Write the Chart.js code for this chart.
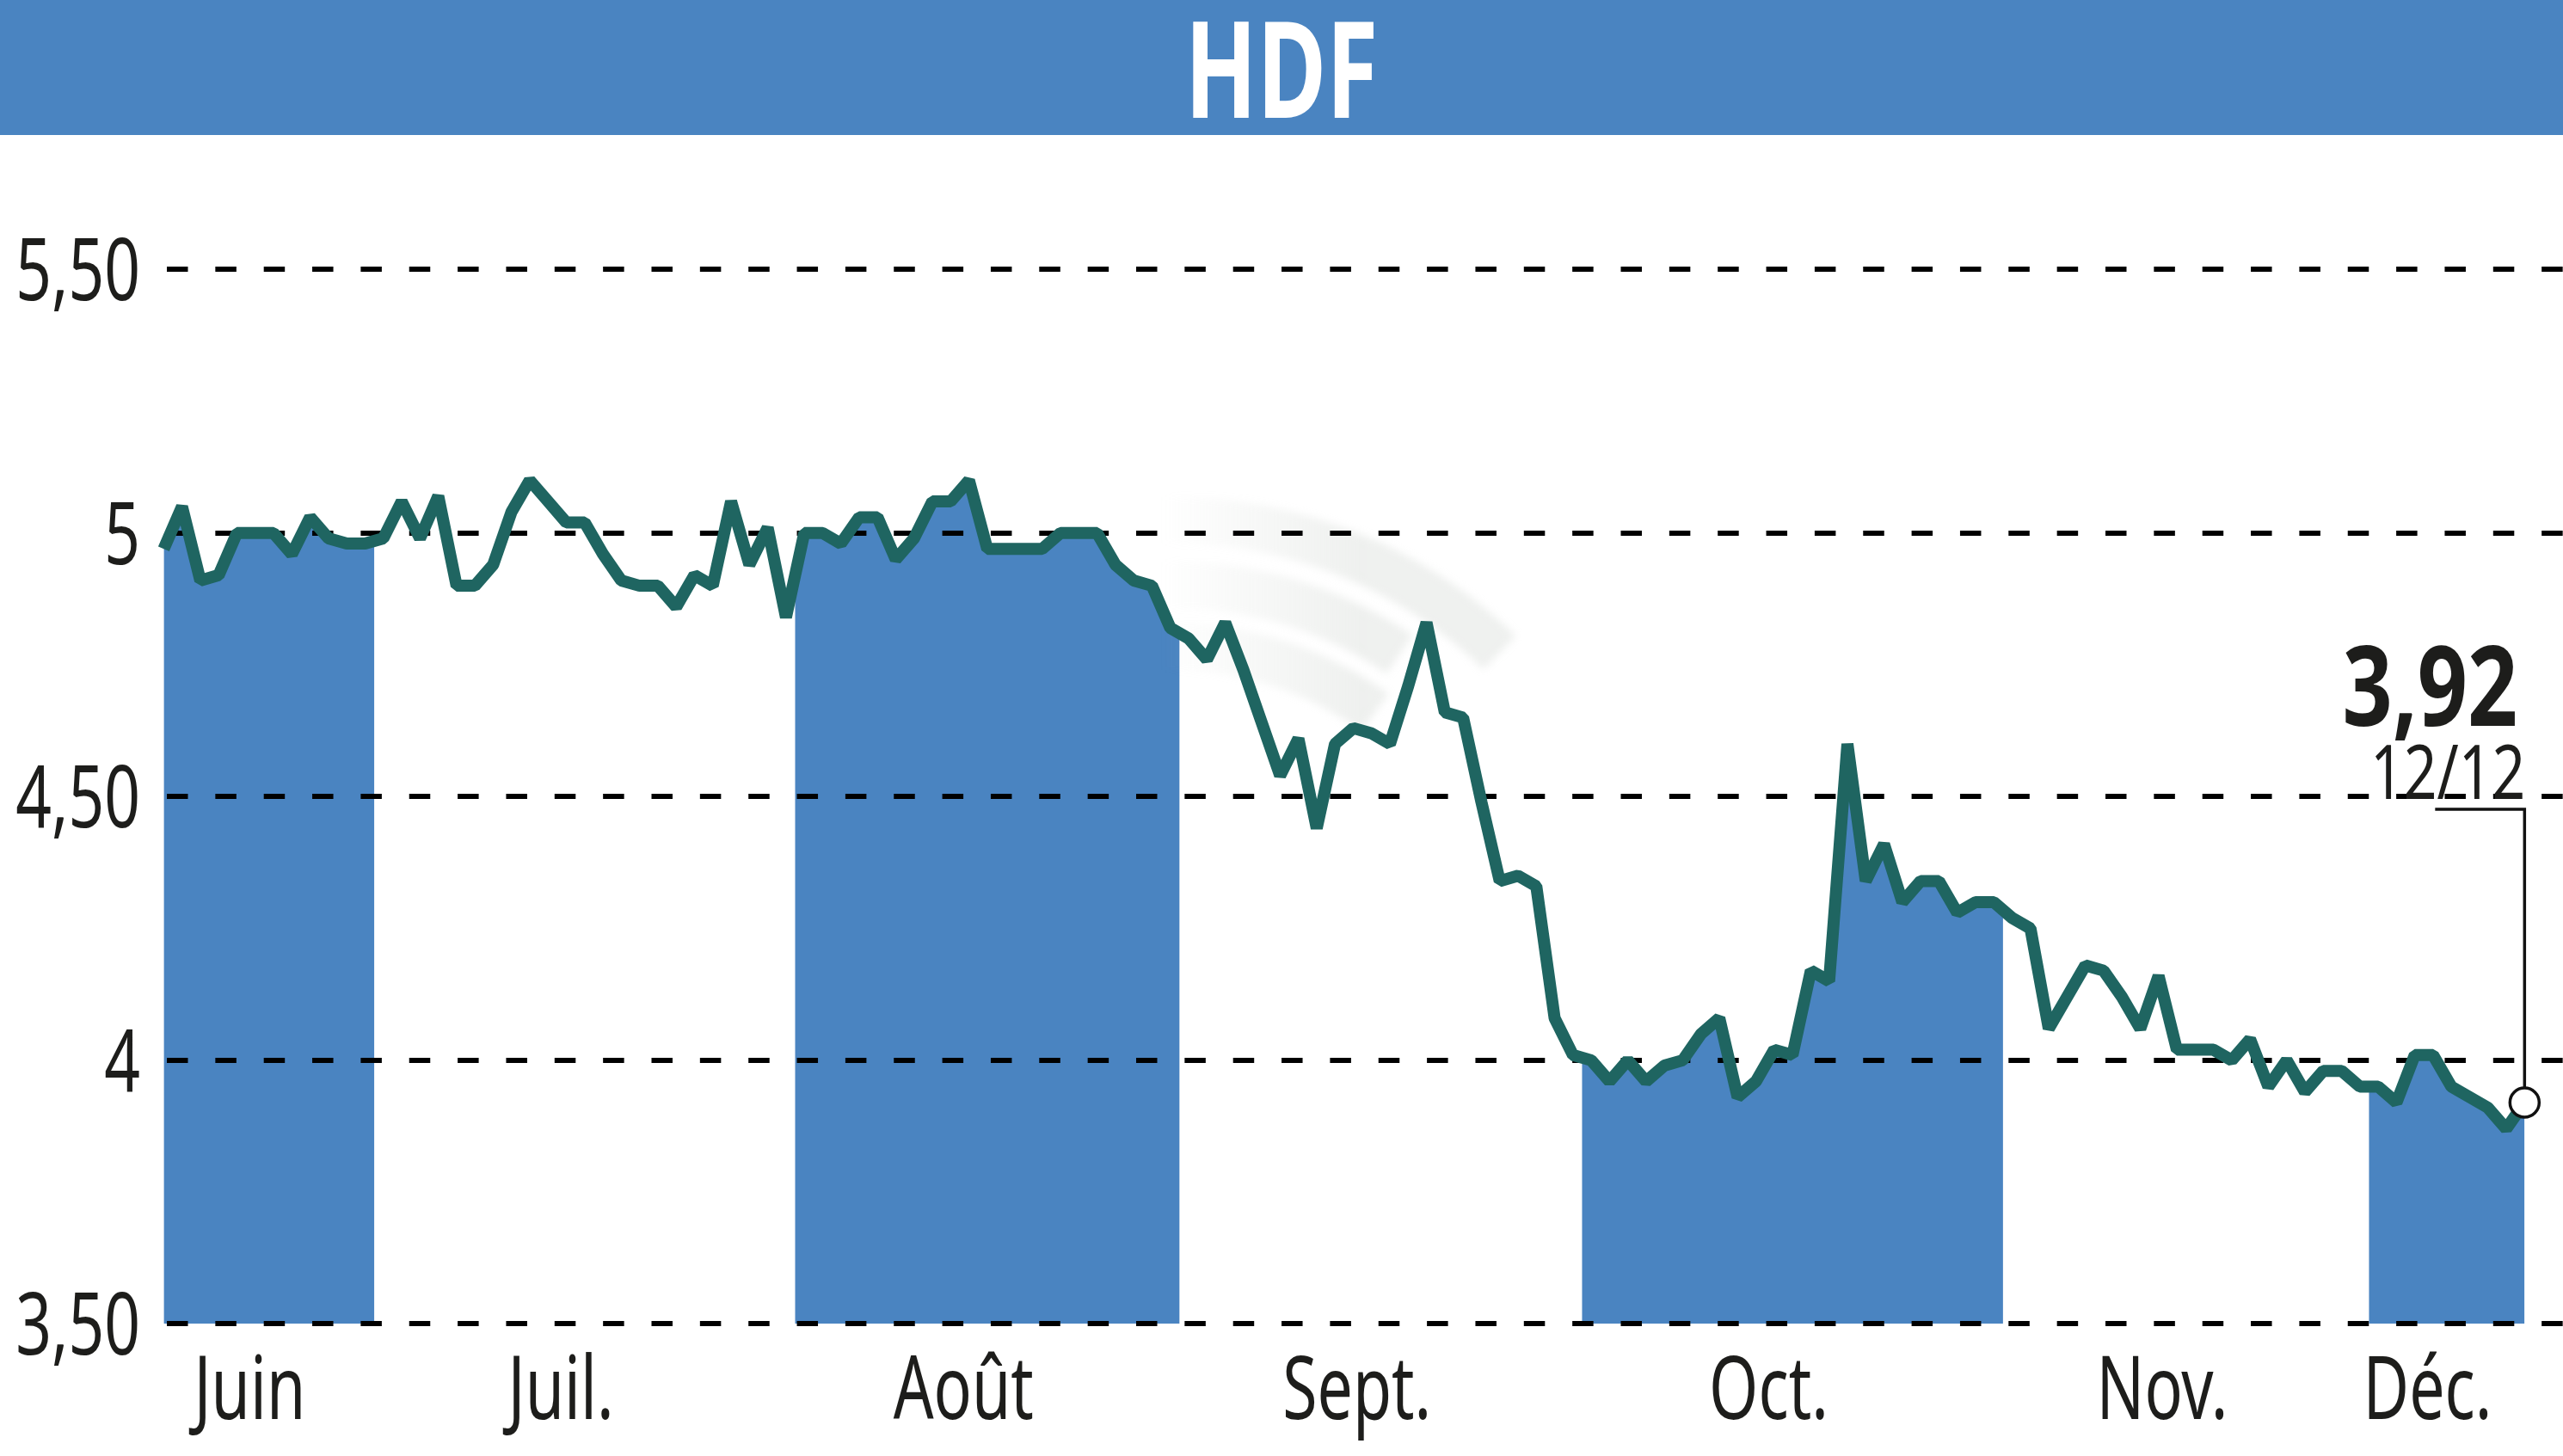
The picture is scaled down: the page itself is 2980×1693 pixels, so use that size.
<!DOCTYPE html>
<html>
<head>
<meta charset="utf-8">
<script src="https://cdn.jsdelivr.net/npm/chart.js@4.4.1/dist/chart.umd.min.js"></script>
<style>
  html, body { margin: 0; padding: 0; background: #fff; overflow: hidden; }
</style>
</head>
<body>
<canvas id="chart" width="2980" height="1693"></canvas>
<script>
// Chart data
const title = "HDF";
const months = ["Juin", "Juil.", "Août", "Sept.", "Oct.", "Nov.", "Déc."];
const monthStart = [0, 12, 35, 56, 78, 101, 121]; // index of first trading day of each month
const prices = [
  // Juin
  4.97, 5.05, 4.91, 4.92, 5.00, 5.00, 5.00, 4.96, 5.03, 4.99, 4.98, 4.98,
  // Juil.
  4.99, 5.06, 4.99, 5.07, 4.90, 4.90, 4.94, 5.04, 5.10, 5.06, 5.02, 5.02,
  4.96, 4.91, 4.90, 4.90, 4.86, 4.92, 4.90, 5.06, 4.94, 5.01, 4.84,
  // Août
  5.00, 5.00, 4.98, 5.03, 5.03, 4.95, 4.99, 5.06, 5.06, 5.10, 4.97, 4.97,
  4.97, 4.97, 5.00, 5.00, 5.00, 4.94, 4.91, 4.90, 4.82,
  // Sept.
  4.80, 4.76, 4.83, 4.74, 4.64, 4.54, 4.61, 4.44, 4.60, 4.63, 4.62, 4.60,
  4.71, 4.83, 4.66, 4.65, 4.49, 4.34, 4.35, 4.33, 4.08, 4.01,
  // Oct.
  4.00, 3.96, 4.00, 3.96, 3.99, 4.00, 4.05, 4.08, 3.93, 3.96, 4.02, 4.01,
  4.17, 4.15, 4.60, 4.34, 4.41, 4.30, 4.34, 4.34, 4.28, 4.30, 4.30,
  // Nov.
  4.27, 4.25, 4.06, 4.12, 4.18, 4.17, 4.12, 4.06, 4.16, 4.02, 4.02, 4.02,
  4.00, 4.04, 3.95, 4.00, 3.94, 3.98, 3.98, 3.95,
  // Déc.
  3.95, 3.92, 4.01, 4.01, 3.95, 3.93, 3.91, 3.87, 3.92
];
const yTicks = [3.5, 4, 4.5, 5, 5.5];
const lastDate = "12/12";

// Styles
const FONT = "'Noto Sans', sans-serif";
const BLUE = "#4a84c1";
const TEAL = "#1f6561";
const INK = "#1d1d1b";

const frFmt = v => Number.isInteger(v) ? String(v) : v.toFixed(2).replace(".", ",");
const points = prices.map((v, i) => ({ x: i, y: v }));
const last = prices.length - 1;

// month ranges in day units
const monthFrom = m => monthStart[m] - 0.5;
const monthTo = m => (m + 1 < months.length ? monthStart[m + 1] : prices.length) - 0.5;
const labelAt = months.map((_, m) => (Math.max(monthFrom(m), 0.5) + monthTo(m)) / 2 - 1.3);

// condensed text: the reference uses a narrow face, so squeeze horizontally
function narrowText(ctx, text, x, y, sx, align) {
  ctx.save();
  ctx.translate(x, y);
  ctx.scale(sx, 1);
  ctx.textAlign = align;
  ctx.textBaseline = "alphabetic";
  ctx.fillText(text, 0, 0);
  ctx.restore();
}

// clip the area fill to every other month
const bandClip = {
  id: "bandClip",
  beforeRender(chart) {
    const x = chart.scales.x, a = chart.chartArea, ctx = chart.ctx;
    ctx.save();
    ctx.beginPath();
    for (let m = 0; m < months.length; m += 2) {
      const from = x.getPixelForValue(monthFrom(m));
      const to = x.getPixelForValue(monthTo(m));
      ctx.rect(from, a.top, to - from, a.bottom - a.top);
    }
    ctx.clip();
  },
  beforeDraw(chart) {
    const ctx = chart.ctx;
    ctx.restore();
    // faint logo watermark
    ctx.save();
    ctx.filter = "blur(5px)";
    const g = ctx.createLinearGradient(1350, 0, 1580, 0);
    g.addColorStop(0, "rgba(190,197,190,0)");
    g.addColorStop(1, "rgba(190,197,190,0.25)");
    ctx.strokeStyle = g;
    ctx.lineWidth = 54;
    [[548, -46], [473, -56], [401, -54]].forEach(([r, end]) => {
      ctx.beginPath();
      ctx.arc(1363, 1153, r, -Math.PI * 100 / 180, Math.PI * end / 180);
      ctx.stroke();
    });
    ctx.restore();
  }
};

// header, axis labels and last value callout
const labels = {
  id: "labels",
  afterDraw(chart) {
    const ctx = chart.ctx;
    const xs = chart.scales.x, ys = chart.scales.y;
    ctx.save();
    ctx.fillStyle = BLUE;
    ctx.fillRect(0, 0, chart.width, 157);
    ctx.fillStyle = "#fff";
    ctx.font = "bold 157px " + FONT;
    narrowText(ctx, title, chart.width / 2, 137, 0.7, "center");

    ctx.fillStyle = INK;
    ctx.font = "100px " + FONT;
    yTicks.forEach(v => narrowText(ctx, frFmt(v), 163, ys.getPixelForValue(v) + 36, 0.73, "right"));
    ctx.font = "102px " + FONT;
    months.forEach((m, i) => narrowText(ctx, m, xs.getPixelForValue(labelAt[i]), 1650, 0.72, "center"));

    const pt = chart.getDatasetMeta(1).data[last];
    ctx.strokeStyle = "#111";
    ctx.lineWidth = 3.5;
    ctx.beginPath();
    ctx.moveTo(pt.x, pt.y - 18);
    ctx.lineTo(pt.x, pt.y - 341);
    ctx.lineTo(pt.x - 104, pt.y - 341);
    ctx.stroke();
    ctx.font = "88px " + FONT;
    narrowText(ctx, lastDate, pt.x + 1, pt.y - 353, 0.77, "right");
    ctx.font = "bold 129px " + FONT;
    narrowText(ctx, frFmt(prices[last]), pt.x - 8, pt.y - 438, 0.79, "right");
    ctx.restore();
  }
};

new Chart(document.getElementById("chart"), {
  type: "line",
  data: {
    datasets: [
      {
        data: points,
        borderWidth: 0,
        pointRadius: 0,
        backgroundColor: BLUE,
        fill: "start",
        order: 2
      },
      {
        data: points,
        borderColor: TEAL,
        borderWidth: 14,
        borderJoinStyle: "bevel",
        tension: 0,
        fill: false,
        pointRadius: ctx => ctx.dataIndex === last ? 17 : 0,
        pointBackgroundColor: "#fff",
        pointBorderColor: "#111",
        pointBorderWidth: 3.5,
        order: 1
      }
    ]
  },
  options: {
    responsive: false,
    animation: false,
    devicePixelRatio: 1,
    layout: { autoPadding: false, padding: { top: 160, left: 0, right: 0, bottom: 0 } },
    plugins: {
      legend: { display: false },
      tooltip: { enabled: false },
      filler: { drawTime: "beforeDraw" }
    },
    scales: {
      x: {
        type: "linear",
        min: -0.3,
        max: 131.1,
        grid: { display: false, drawTicks: false },
        border: { display: false },
        afterBuildTicks: s => { s.ticks = labelAt.map(v => ({ value: v })); },
        afterFit: s => { s.height = 1693 - 1539.4; },
        ticks: { display: false }
      },
      y: {
        min: 3.5,
        max: 5.75,
        afterBuildTicks: s => { s.ticks = yTicks.map(v => ({ value: v })); },
        afterFit: s => { s.width = 184; },
        grid: { color: "#000", lineWidth: 6, drawTicks: false },
        border: { display: false, dash: [24.5, 31.85], dashOffset: 46.35 },
        ticks: { display: false }
      }
    }
  },
  plugins: [bandClip, labels]
});
</script>
</body>
</html>
